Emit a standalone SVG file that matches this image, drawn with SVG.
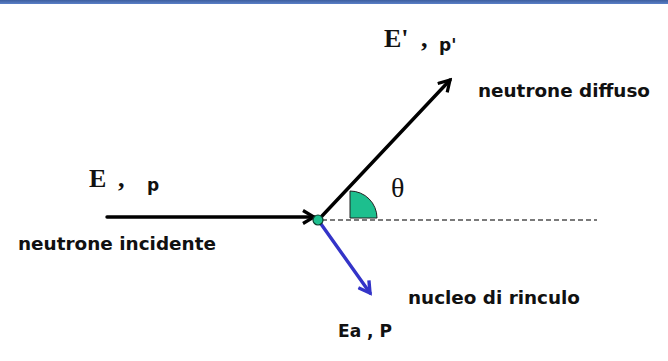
<svg xmlns="http://www.w3.org/2000/svg" width="668" height="361" viewBox="0 0 668 361">
<defs>
<linearGradient id="bar" x1="0" y1="0" x2="0" y2="1">
<stop offset="0" stop-color="#3d5e9e"/>
<stop offset="1" stop-color="#5a80c8"/>
</linearGradient>
<marker id="hk" viewBox="0 0 16 16" refX="13" refY="8" markerWidth="16" markerHeight="16" markerUnits="userSpaceOnUse" orient="auto">
<path d="M2,1.5 L13,8 L2,14.5" fill="none" stroke="#000" stroke-width="3.2" stroke-linejoin="miter"/>
</marker>
<marker id="hb" viewBox="0 0 16 16" refX="13" refY="8" markerWidth="16" markerHeight="16" markerUnits="userSpaceOnUse" orient="auto">
<path d="M2,1.5 L13,8 L2,14.5" fill="none" stroke="#3434c8" stroke-width="3.4" stroke-linejoin="miter"/>
</marker>
</defs>
<style>
.lbl{font-family:"DejaVu Sans",Verdana,sans-serif;font-weight:bold;font-size:17px;fill:#111}
.ser{font-family:"Liberation Serif","Times New Roman",serif;font-weight:bold;font-size:26px;fill:#111}
.sp{font-family:"DejaVu Sans",sans-serif;font-weight:bold;font-size:17px;fill:#111}
.ln{fill:none;stroke-width:3.4;stroke-linecap:round}
</style>
<rect x="0" y="0" width="668" height="4" fill="url(#bar)"/>
<g id="connectors">
<line x1="322" y1="220" x2="597" y2="220" stroke="#7a7a7a" stroke-width="2" stroke-dasharray="5,3"/>
<line class="ln" x1="107" y1="217" x2="314" y2="217" stroke="#000" marker-end="url(#hk)"/>
<line class="ln" x1="322" y1="216" x2="450" y2="80" stroke="#000" marker-end="url(#hk)"/>
<line class="ln" x1="321" y1="224" x2="370" y2="293" stroke="#3434c8" marker-end="url(#hb)"/>
</g>
<g id="angle">
<path d="M350,218 L350,191 A27,27 0 0 1 377,218 Z" fill="#1dbf8e" stroke="#222" stroke-width="1"/>
<text x="391" y="197" font-family="Liberation Serif,serif" font-size="28" fill="#111">θ</text>
</g>
<g id="nucleus">
<circle cx="318" cy="220" r="5" fill="#1dbf8e" stroke="#0b3a2c" stroke-width="1.2"/>
</g>
<g id="incident">
<text class="ser" x="89" y="187">E</text>
<text class="ser" x="118" y="187">,</text>
<text class="sp" x="147" y="191">p</text>
<text class="lbl" x="18" y="250" textLength="198" lengthAdjust="spacingAndGlyphs">neutrone incidente</text>
</g>
<g id="scattered">
<text class="ser" x="384" y="47">E'</text>
<text class="ser" x="421" y="47">,</text>
<text class="sp" x="439" y="51">p'</text>
<text class="lbl" x="478" y="97" textLength="172" lengthAdjust="spacingAndGlyphs">neutrone diffuso</text>
</g>
<g id="recoil">
<text class="lbl" x="408" y="304" textLength="172" lengthAdjust="spacingAndGlyphs">nucleo di rinculo</text>
<text class="lbl" x="338" y="337" textLength="54" lengthAdjust="spacingAndGlyphs">Ea , P</text>
</g>
</svg>
